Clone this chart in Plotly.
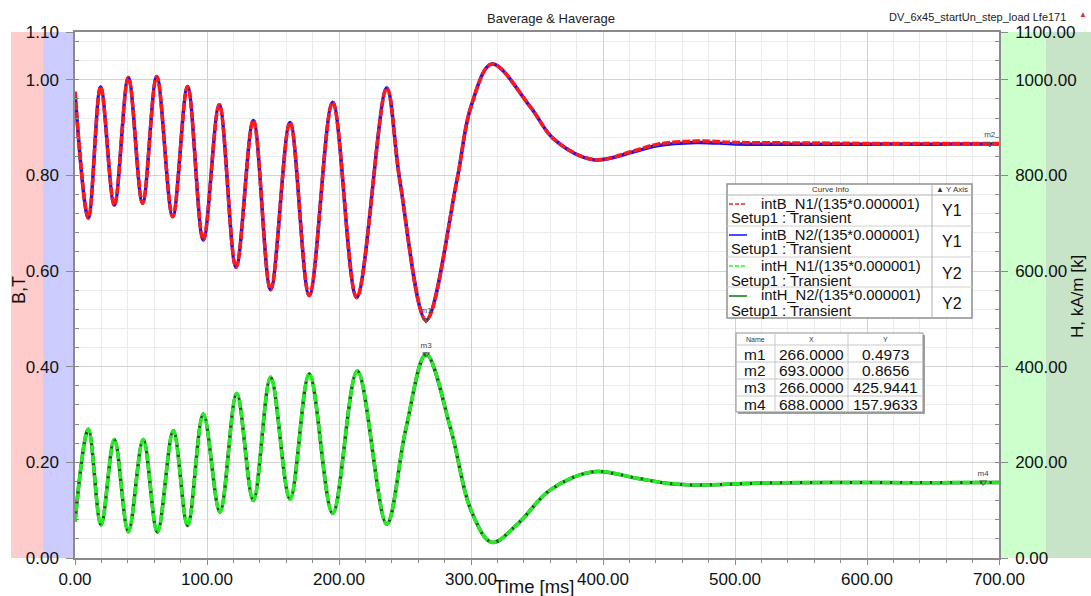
import plotly.graph_objects as go

# ---------------- data ----------------
t_B = [0, 10.1, 19.4, 29.8, 40.4, 51.2, 61.9, 74.0, 85.3, 97.2, 109.3, 122.0,
       135.1, 148.2, 162.9, 177.5, 195.2, 213.4, 236.1, 246.0, 266.0, 289.4,
       300.0, 315.8, 344.8, 362.8, 392.7, 422.7, 440.7, 470.6, 500.5, 550,
       600, 650, 693, 700]
B_N1 = [0.975, 0.711, 0.985, 0.738, 1.005, 0.742, 1.007, 0.714, 0.986, 0.665,
        0.948, 0.608, 0.915, 0.561, 0.911, 0.549, 0.953, 0.545, 0.983, 0.791,
        0.4973, 0.791, 0.944, 1.033, 0.944, 0.876, 0.833, 0.851, 0.865, 0.872,
        0.869, 0.868, 0.867, 0.867, 0.867, 0.867]
B_N2 = [0.975, 0.711, 0.985, 0.738, 1.005, 0.742, 1.007, 0.714, 0.986, 0.665,
        0.948, 0.608, 0.915, 0.561, 0.911, 0.549, 0.953, 0.545, 0.983, 0.791,
        0.4973, 0.791, 0.944, 1.033, 0.944, 0.876, 0.833, 0.849, 0.862, 0.869,
        0.866, 0.865, 0.8655, 0.8655, 0.8656, 0.8656]

t_H = [0, 10.1, 19.7, 29.8, 40.4, 51.7, 62.4, 74.5, 85.3, 97.2, 109.8, 122.5,
       135.1, 148.2, 162.9, 177.5, 195.2, 213.9, 236.1, 250.5, 266.0, 284.8,
       300.0, 315.8, 335.8, 359.8, 392.7, 425.7, 449.6, 473.6, 520, 580, 640,
       688, 700]
H_N1 = [76, 269, 69, 248, 55, 248, 54, 266, 68, 301, 96, 344, 120, 378, 123,
        385, 93, 391, 71, 268, 425.94, 268, 100, 32.8, 72.5, 142, 180.6, 166.7,
        156, 152.7, 157, 158, 157.5, 157.96, 158]
H_N2 = H_N1[:]

x_ticks = [0, 100, 200, 300, 400, 500, 600, 700]
x_ticktext = ["0.00", "100.00", "200.00", "300.00", "400.00", "500.00", "600.00", "700.00"]
y1_ticks = [0, 0.2, 0.4, 0.6, 0.8, 1.0, 1.1]
y1_ticktext = ["0.00", "0.20", "0.40", "0.60", "0.80", "1.00", "1.10"]
y2_ticks = [0, 200, 400, 600, 800, 1000, 1100]
y2_ticktext = ["0.00", "200.00", "400.00", "600.00", "800.00", "1000.00", "1100.00"]

legend_names = ["intB_N1/(135*0.000001)", "intB_N2/(135*0.000001)",
                "intH_N1/(135*0.000001)", "intH_N2/(135*0.000001)"]
legend_axes = ["Y1", "Y1", "Y2", "Y2"]
legend_colors = ["#ff2020", "#1010ff", "#20ff20", "#008000"]
legend_dash = ["dash", "solid", "dash", "solid"]

marker_names = ["m1", "m2", "m3", "m4"]
marker_x = [266.0, 693.0, 266.0, 688.0]
marker_y = [0.4973, 0.8656, 425.9441, 157.9633]
marker_axis = ["y", "y", "y2", "y2"]

# ---------------- layout geometry ----------------
W, H = 1091, 596
L, R, T, Bm = 75, 92, 32, 38
PW, PH = W - L - R, H - T - Bm


def px(x):
    return (x - L) / PW


def py(y):
    return (H - Bm - y) / PH


FONT = "Liberation Sans, Arial, sans-serif"
fig = go.Figure()

# B curves: blue solid under red dashed
fig.add_trace(go.Scatter(x=t_B, y=B_N2, mode="lines", yaxis="y",
                         line=dict(color="#1010ff", width=3.5, shape="spline", smoothing=1.0),
                         showlegend=False, hoverinfo="skip"))
fig.add_trace(go.Scatter(x=t_B, y=B_N1, mode="lines", yaxis="y",
                         line=dict(color="#ff1a1a", width=3.5, shape="spline", smoothing=1.0,
                                   dash="8px,2px"),
                         showlegend=False, hoverinfo="skip"))
# H curves: dark green solid under bright green dashed
fig.add_trace(go.Scatter(x=t_H, y=H_N2, mode="lines", yaxis="y2",
                         line=dict(color="#1f4f1f", width=3.5, shape="spline", smoothing=1.0),
                         showlegend=False, hoverinfo="skip"))
fig.add_trace(go.Scatter(x=t_H, y=H_N1, mode="lines", yaxis="y2",
                         line=dict(color="#22ee22", width=3.5, shape="spline", smoothing=1.0,
                                   dash="8px,2px"),
                         showlegend=False, hoverinfo="skip"))

# markers m1..m4
for name, mx, my, ax in zip(marker_names, marker_x, marker_y, marker_axis):
    fig.add_trace(go.Scatter(x=[mx], y=[my], yaxis=ax, mode="markers+text",
                             marker=dict(symbol="triangle-down-open", size=6,
                                         color="#555555", line=dict(width=1)),
                             text=[name], textposition="top center",
                             textfont=dict(size=8, color="#444444", family=FONT),
                             showlegend=False, hoverinfo="skip"))

shapes = []
annotations = []


def note(x, y, text, size, color="#111", xanchor="center", angle=0):
    annotations.append(dict(x=px(x), y=py(y), xref="paper", yref="paper", text=text,
                            xanchor=xanchor, yanchor="middle", showarrow=False,
                            textangle=angle, font=dict(size=size, color=color, family=FONT)))


def hline(x0, x1, y, color, width=1, dash="solid"):
    shapes.append(dict(type="line", xref="paper", yref="paper", x0=px(x0), x1=px(x1),
                       y0=py(y), y1=py(y), line=dict(color=color, width=width, dash=dash)))


def vline(x, y0, y1, color, width=1):
    shapes.append(dict(type="line", xref="paper", yref="paper", x0=px(x), x1=px(x),
                       y0=py(y0), y1=py(y1), line=dict(color=color, width=width)))


def rect(x0, x1, y0, y1, fill, lc=None, lw=0, layer="above"):
    shapes.append(dict(type="rect", xref="paper", yref="paper", x0=px(x0), x1=px(x1),
                       y0=py(y1), y1=py(y0), fillcolor=fill, layer=layer,
                       line=dict(color=lc or fill, width=lw)))


# side bands
for x0, x1, c in [(11, 43, "#ffcccc"), (43, 75, "#ccccff"), (999, 1046, "#ccffcc"),
                  (1046, 1091, "#c8e4c8")]:
    rect(x0, x1, 32, 558, c, layer="below")

# Curve info box
bx0, bx1, by0, by1 = 727, 972, 184, 318
rect(bx0, bx1, by0, by1, "white", "#909090", 1.5)
hline(bx0, bx1, 195, "#b0b0b0")
for yy in [226, 257, 287]:
    hline(bx0, bx1, yy, "#d0d0d0")
vline(932, by0, by1, "#b0b0b0")
note(830, 189.5, "Curve Info", 8, "#333")
note(952, 189.5, "▲ Y Axis", 8, "#333")
row_tops = [195, 226, 257, 287]
for i, (nm, axn, col, ds) in enumerate(zip(legend_names, legend_axes, legend_colors, legend_dash)):
    rt = row_tops[i]
    hline(729, 747, rt + 9, col, 1.5, "4px,2px" if ds == "dash" else "solid")
    note(759, rt + 8.5, nm, 14.8, xanchor="left")
    note(729, rt + 23.5, "Setup1 : Transient", 14.8, xanchor="left")
    note(952, rt + 16, axn, 16)

# marker table
tx0, tx1, ty0, ty1 = 736, 923, 333, 412
rect(tx0 + 2, tx1 + 2, ty0 + 2, ty1 + 2, "#a0a0a0")
rect(tx0, tx1, ty0, ty1, "white", "#909090", 1)
for yy in [345, 362, 379, 396]:
    hline(tx0, tx1, yy, "#c8c8c8")
for xx in [775, 848]:
    vline(xx, ty0, ty1, "#c8c8c8")
for txt, xx in [("Name", 755), ("X", 811.5), ("Y", 885.5)]:
    note(xx, 339, txt, 7, "#333")
for i, (nm, mx, my) in enumerate(zip(marker_names, marker_x, marker_y)):
    yc = 354 + i * 16.7
    note(755, yc, nm, 15.5)
    note(811.5, yc, f"{mx:.4f}", 15.5)
    note(885.5, yc, f"{my:.4f}", 15.5)

# titles
note(551, 18, "Baverage & Haverage", 13, "#222")
note(1068, 17, "DV_6x45_startUn_step_load Lfe171", 11, "#222", xanchor="right")
note(1083, 15, "▲", 8, "#e03030")
note(19, 290, "B,T", 18, angle=-90)
note(1078, 297, "H, kA/m [k]", 17, angle=-90)
note(534, 586, "Time [ms]", 18.5)

axis_line = "#8a8a8a"
fig.update_layout(
    width=W, height=H, margin=dict(l=L, r=R, t=T, b=Bm, pad=0, autoexpand=False),
    paper_bgcolor="white", plot_bgcolor="white", showlegend=False,
    font=dict(family=FONT, color="#111"),
    xaxis=dict(range=[0, 700], tickvals=x_ticks, ticktext=x_ticktext, automargin=False,
               ticks="outside", ticklen=5, tickcolor=axis_line,
               showline=True, linecolor=axis_line, linewidth=1.5, mirror=True,
               showgrid=True, gridcolor="#d2d2d2", gridwidth=1, zeroline=False,
               tickfont=dict(size=17, color="#111"),
               minor=dict(dtick=20, tick0=0, ticks="outside", ticklen=3, tickcolor=axis_line,
                          showgrid=True, gridcolor="#ebebeb")),
    yaxis=dict(range=[0, 1.1], tickvals=y1_ticks, ticktext=y1_ticktext, automargin=False,
               ticks="outside", ticklen=7, tickcolor=axis_line,
               showline=True, linecolor=axis_line, linewidth=1.5,
               showgrid=True, gridcolor="#d2d2d2", gridwidth=1, zeroline=False,
               tickfont=dict(size=17, color="#111"), ticklabelstandoff=4,
               minor=dict(dtick=0.04, tick0=0, ticks="inside", ticklen=4, tickcolor=axis_line,
                          showgrid=True, gridcolor="#ebebeb")),
    yaxis2=dict(range=[0, 1100], tickvals=y2_ticks, ticktext=y2_ticktext, overlaying="y",
                automargin=False,
                side="right", ticks="outside", ticklen=7, tickcolor=axis_line,
                showline=True, linecolor=axis_line, linewidth=1.5,
                showgrid=False, zeroline=False, tickfont=dict(size=17, color="#111"),
                ticklabelstandoff=4,
                minor=dict(dtick=40, tick0=0, ticks="inside", ticklen=4, tickcolor=axis_line)),
    shapes=shapes, annotations=annotations,
)

fig.write_html("out.html", config={"displayModeBar": False},
               post_script="document.body.style.margin='0';document.body.style.padding='0';")
